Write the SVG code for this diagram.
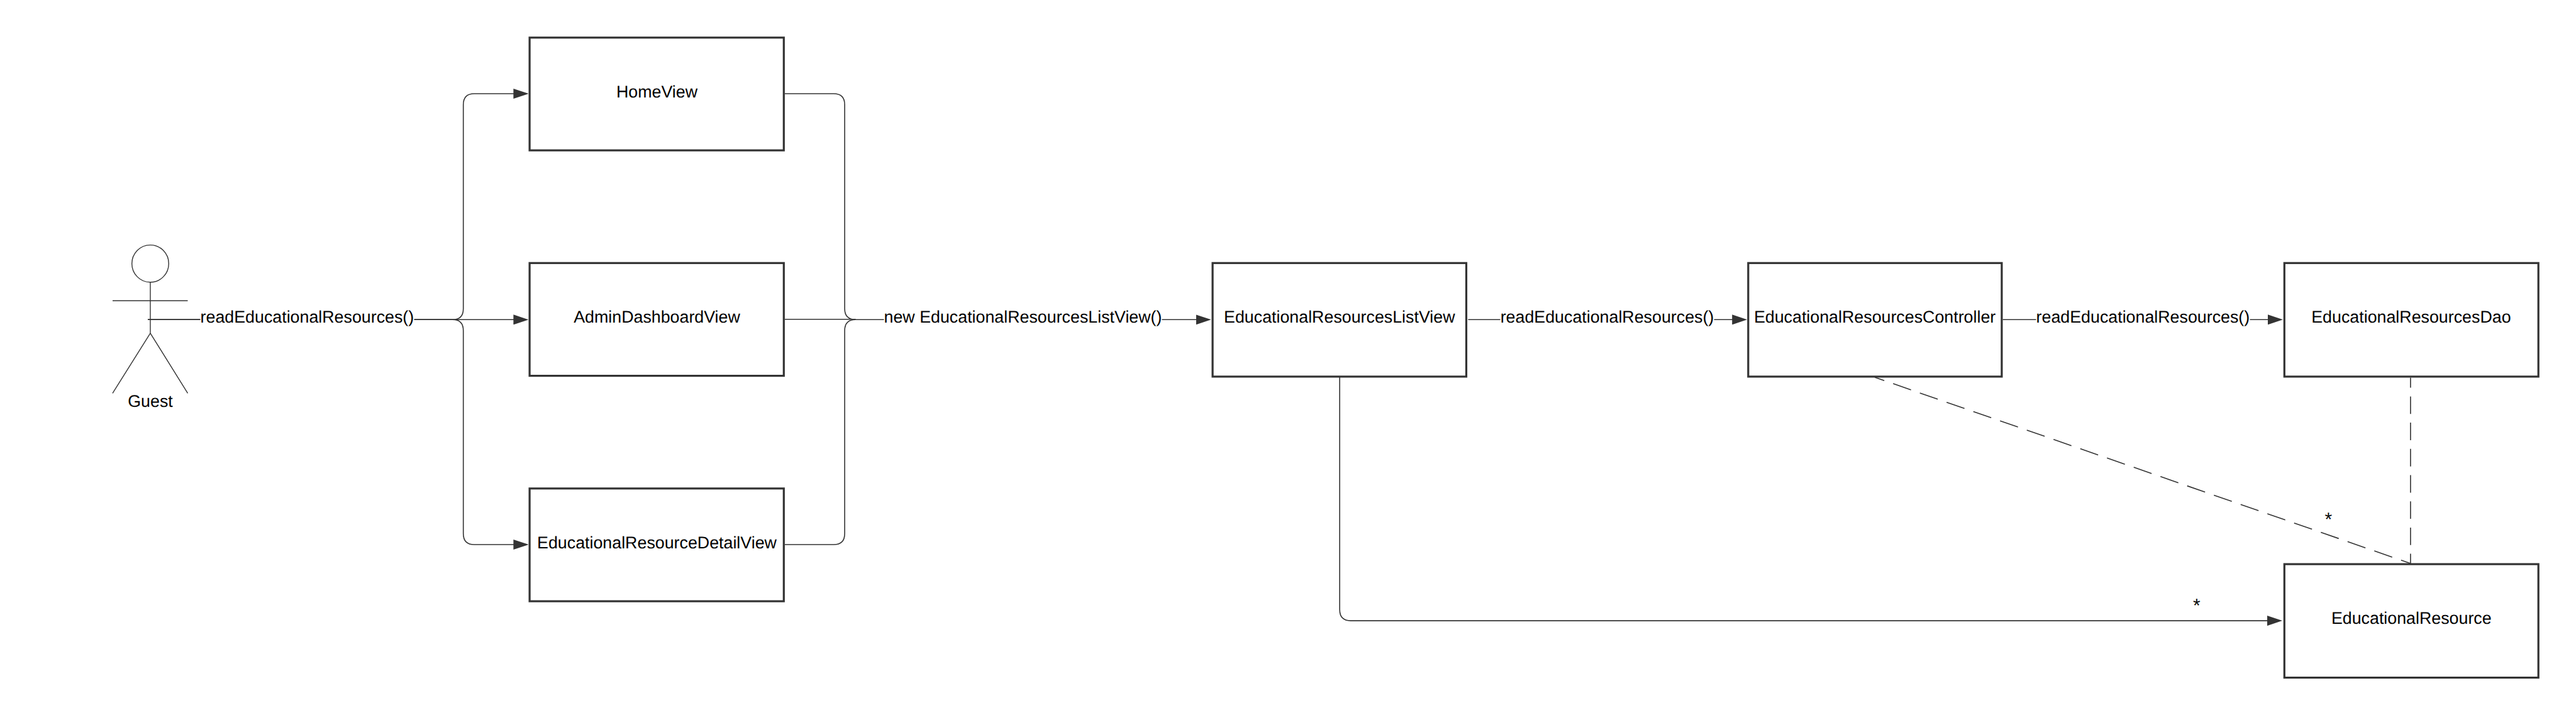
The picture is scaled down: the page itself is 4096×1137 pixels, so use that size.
<svg xmlns="http://www.w3.org/2000/svg" width="4096" height="1137" viewBox="0 0 4096 1137">
<style>
text{font-family:"Liberation Sans",Arial,sans-serif;font-size:26.8px;fill:#000;text-anchor:middle;text-rendering:geometricPrecision}
.star{font-size:30px}
.box{fill:#fff;stroke:#333;stroke-width:3.2}
.conn{fill:none;stroke:#333;stroke-width:1.6}
.arrow{marker-end:url(#head)}
.dash{stroke-dasharray:27.9 13.8}
.actor{fill:none;stroke:#333;stroke-width:1.4}
.bg{fill:#fff}
</style>
<defs>
<marker id="head" markerUnits="userSpaceOnUse" markerWidth="24" markerHeight="16" viewBox="0 0 24 16" refX="14" refY="8" orient="auto"><path d="M0 0L24 8L0 16Z" fill="#333"/></marker>
</defs>
<rect width="4096" height="1137" fill="#fff"/>
<g id="connectors">
<path class="conn arrow" d="M235 508.3H719.5Q736.7 508.3 736.7 491V166.5Q736.7 149 754 149H830.4"/>
<path class="conn arrow" d="M235 508.3H830.4"/>
<path class="conn arrow" d="M235 508.3H719.5Q736.7 508.3 736.7 525.8V848.5Q736.7 866 754 866H830.4"/>
<path class="conn" d="M1248 149H1325.6Q1343.1 149 1343.1 166.5V490.8Q1343.1 508.3 1360.6 508.3"/>
<path class="conn" d="M1248 507.8H1360.6"/>
<path class="conn" d="M1248 866H1325.6Q1343.1 866 1343.1 848.5V525.8Q1343.1 508.3 1360.6 508.3"/>
<path class="conn arrow" d="M1360.6 508.3H1915.7"/>
<path class="conn arrow" d="M2334.4 508.3H2768.2"/>
<path class="conn arrow" d="M3184.5 508.3H3619.9"/>
<path class="conn arrow" d="M2130.2 600V969.6Q2130.2 987.1 2147.7 987.1H3619"/>
<path class="conn dash" stroke-dashoffset="11.8" d="M3832.9 600.5V895.5"/>
<path class="conn" style="stroke-dasharray:30.1 14.9" stroke-dashoffset="14.2" d="M2981.1 600L3833.6 896.3"/>
<g id="connector-labels">
<rect class="bg" x="318.5" y="490" width="340" height="34"/>
<text x="488.4" y="513.1">readEducationalResources()</text>
<rect class="bg" x="1405.5" y="490" width="442" height="34"/>
<text x="1626.5" y="513.1">new EducationalResourcesListView()</text>
<rect class="bg" x="2385.5" y="490" width="340" height="34"/>
<text x="2555.5" y="513.1">readEducationalResources()</text>
<rect class="bg" x="3237.5" y="490" width="340" height="34"/>
<text x="3407.4" y="513.1">readEducationalResources()</text>
<text class="star" x="3702.4" y="835.5">*</text>
<text class="star" x="3492.8" y="973.3">*</text>
</g>
</g>
<g id="guest">
<ellipse class="actor" cx="239" cy="419.2" rx="29.3" ry="29.6"/>
<path class="actor" d="M239 448.8V529.8M179 478.3H298.5M239 529.8L179 625.4M239 529.8L298.5 625.4"/>
<text x="239" y="646.7">Guest</text>
</g>
<g id="home-view"><rect class="box" x="842.1" y="59.8" width="404.2" height="179.3"/><text x="1044.5" y="154.6">HomeView</text></g>
<g id="admin-dashboard-view"><rect class="box" x="842.1" y="418.3" width="404.2" height="179.3"/><text x="1044.5" y="513.1">AdminDashboardView</text></g>
<g id="educational-resource-detail-view"><rect class="box" x="842.1" y="776.8" width="404.2" height="179.3"/><text x="1044.5" y="871.6">EducationalResourceDetailView</text></g>
<g id="educational-resources-list-view"><rect class="box" x="1928.1" y="418.3" width="403.4" height="180.6"/><text x="2129.8" y="513.1">EducationalResourcesListView</text></g>
<g id="educational-resources-controller"><rect class="box" x="2779.8" y="418.3" width="403.1" height="180.6"/><text x="2981.1" y="513.1">EducationalResourcesController</text></g>
<g id="educational-resources-dao"><rect class="box" x="3632.3" y="418.3" width="403.9" height="180.6"/><text x="3833.9" y="513.1">EducationalResourcesDao</text></g>
<g id="educational-resource"><rect class="box" x="3632.3" y="897.1" width="403.9" height="180.5"/><text x="3834.3" y="992">EducationalResource</text></g>
</svg>
